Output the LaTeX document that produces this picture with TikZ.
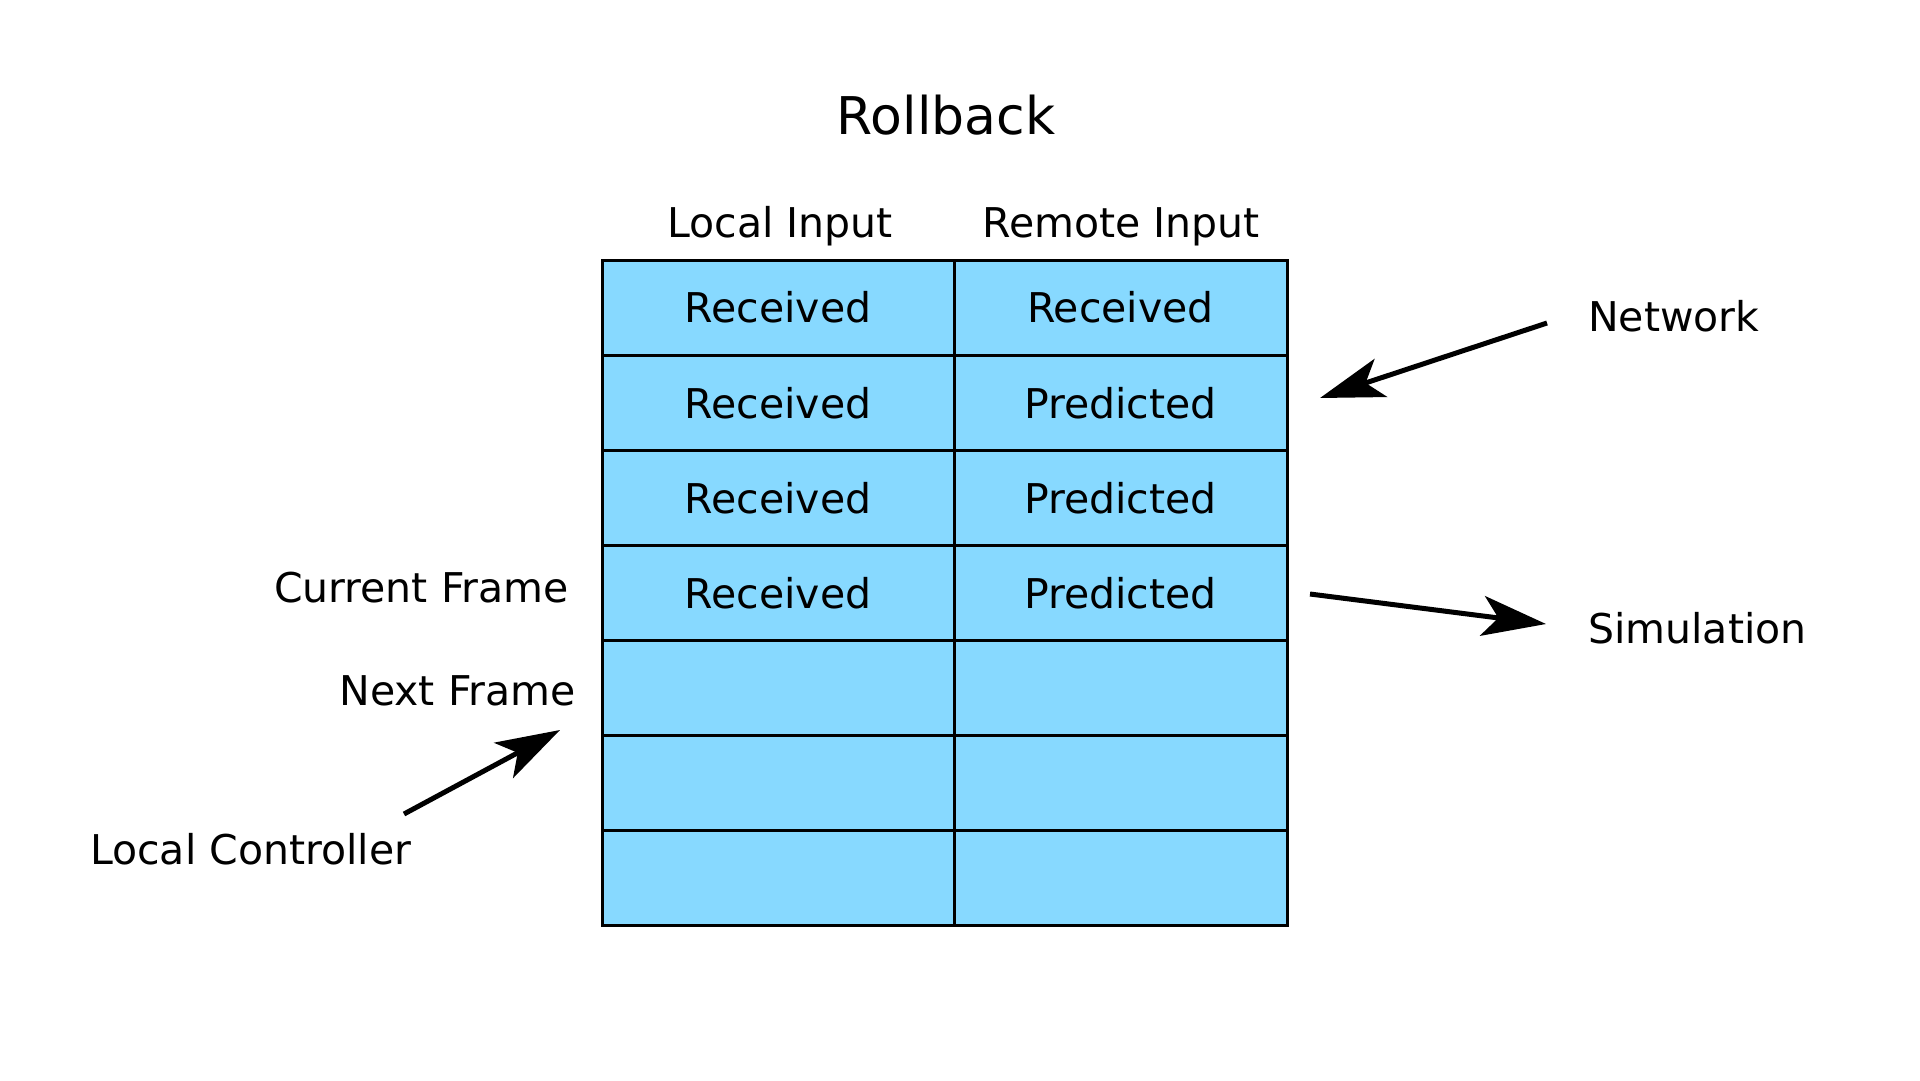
\documentclass[tikz,border=0pt]{standalone}
\usepackage{fontspec}
\setmainfont{DejaVu Sans}
\usetikzlibrary{arrows.meta, positioning}
\definecolor{cellblue}{RGB}{135,217,255}

\begin{document}
\begin{tikzpicture}[x=1pt, y=-1pt,
    txt/.style={font=\fontsize{41}{49}\selectfont, inner sep=0pt},
    cell/.style={txt, draw, line width=3pt, fill=cellblue, anchor=north west,
                 minimum height=95.14pt, outer sep=0pt},
    arr/.style={line width=5pt, -{Stealth[length=64pt, width=40pt, inset=16pt]}}]
    \useasboundingbox (0,0) rectangle (1920,1080);

    % Title
    \node[font=\fontsize{52}{62}\selectfont, inner sep=0pt, anchor=base] (title) at (946,134) {Rollback};

    % Column headers
    \node[txt, anchor=base] (localhd) at (780,237) {Local Input};
    \node[txt, anchor=base] (remotehd) at (1121,237) {Remote Input};

    % Input buffer
    \foreach \r/\a/\b in {1/Received/Received, 2/Received/Predicted,
                          3/Received/Predicted, 4/Received/Predicted} {
        \node[cell, minimum width=352pt] (l\r) at (602,{260+(\r-1)*95.14}) {\a};
        \node[cell, minimum width=333pt] (r\r) at (954,{260+(\r-1)*95.14}) {\b};
    }
    \foreach \r in {5,6,7} {
        \node[cell, minimum width=352pt] (l\r) at (602,{260+(\r-1)*95.14}) {};
        \node[cell, minimum width=333pt] (r\r) at (954,{260+(\r-1)*95.14}) {};
    }

    % Side labels
    \node[txt, anchor=east] (current) at (569,588) {Current Frame};
    \node[txt, anchor=east] (next) at (576,691) {Next Frame};
    \node[txt, anchor=west] (ctrl) at (90,849) {Local Controller};
    \node[txt, anchor=west] (net) at (1588,316) {Network};
    \node[txt, anchor=west] (sim) at (1588,628) {Simulation};

    % Arrows
    \coordinate (nettail) at (1547,323);
    \coordinate (nettip) at (1320,398);
    \coordinate (simtail) at (1310,594);
    \coordinate (simtip) at (1546,624);
    \coordinate (ctrltail) at (404,814);
    \coordinate (ctrltip) at (560,730);
    \draw[arr] (nettail) -- (nettip);
    \draw[arr] (simtail) -- (simtip);
    \draw[arr] (ctrltail) -- (ctrltip);
\end{tikzpicture}
\end{document}
